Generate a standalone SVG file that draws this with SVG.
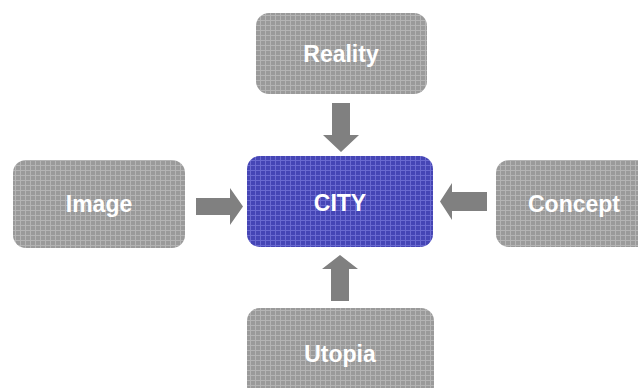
<svg xmlns="http://www.w3.org/2000/svg" width="638" height="388" viewBox="0 0 638 388">
<defs>
<pattern id="gridGray" width="5" height="5" patternUnits="userSpaceOnUse">
<rect width="5" height="5" fill="#9a9a9a"/>
<path d="M0 0.5H5M0.5 0V5" stroke="#b4b4b4" stroke-width="1"/>
</pattern>
<pattern id="gridBlue" width="5" height="5" patternUnits="userSpaceOnUse">
<rect width="5" height="5" fill="#4545b5"/>
<path d="M0 0.5H5M0.5 0V5" stroke="#6a6ad0" stroke-width="1"/>
</pattern>
<style>
.g{fill:url(#gridGray);}
.b{fill:url(#gridBlue);}
.t{font-family:"Liberation Sans",Arial,sans-serif;font-weight:bold;font-size:23px;fill:#ffffff;text-anchor:middle;}
.a{fill:#808080;}
</style>
</defs>
<rect width="638" height="388" fill="#ffffff"/>
<g id="connectors">
<polygon class="a" points="332,103 350,103 350,135 359,135 341,152 323,135 332,135"/>
<polygon class="a" points="196,198 230,198 230,188 243,206.5 230,225 230,215 196,215"/>
<polygon class="a" points="487,192 452,192 452,183 440,201.5 452,220 452,211 487,211"/>
<polygon class="a" points="331,301 349,301 349,269 358,269 340,255 322,269 331,269"/>
</g>
<g id="reality">
<rect class="g" x="256" y="13" width="171" height="81" rx="13"/>
<text class="t" x="341" y="62">Reality</text>
</g>
<g id="city">
<rect class="b" x="247" y="156" width="186" height="91" rx="13"/>
<text class="t" x="340" y="211">CITY</text>
</g>
<g id="image">
<rect class="g" x="13" y="160" width="172" height="88" rx="13"/>
<text class="t" x="99" y="212">Image</text>
</g>
<g id="concept">
<rect class="g" x="496" y="160" width="156" height="87" rx="13"/>
<text class="t" x="574" y="212">Concept</text>
</g>
<g id="utopia">
<rect class="g" x="247" y="308" width="187" height="91" rx="13"/>
<text class="t" x="340" y="362">Utopia</text>
</g>
</svg>
